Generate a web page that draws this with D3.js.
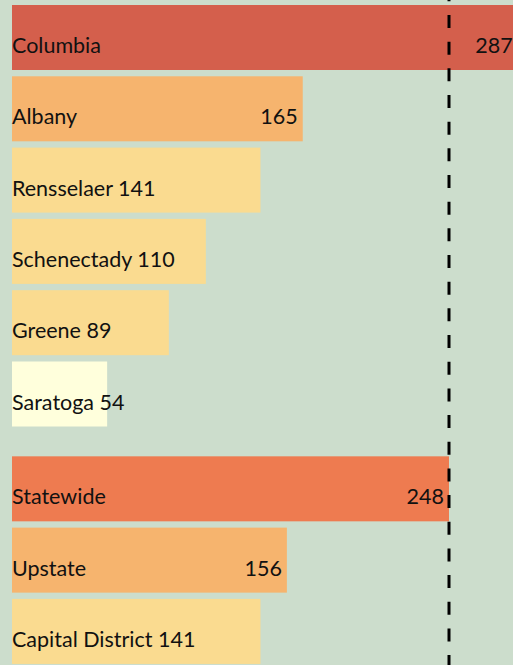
<!DOCTYPE html>
<html><head><meta charset="utf-8">
<script src="https://cdn.jsdelivr.net/npm/d3@7"></script>
<style>html,body{margin:0;padding:0;background:#CCDDCC;overflow:hidden}</style>
</head><body>
<script>
const categories = ["Columbia","Albany","Rensselaer","Schenectady","Greene","Saratoga","Statewide","Upstate","Capital District"];
const values = [287,165,141,110,89,54,248,156,141];
const groups = [0,0,0,0,0,0,1,1,1];
const colors = ["#D45F4C","#F6B46E","#FADB90","#FADB90","#FADB90","#FFFFDC","#EE7B50","#F6B46E","#FADB90"];
const referenceValue = 248;

const W = 513, H = 665;
const svg = d3.select("body").append("svg").attr("width", W).attr("height", H);
svg.append("rect").attr("width", W).attr("height", H).attr("fill", "#CCDDCC");

const x = d3.scaleLinear().domain([0, 248]).range([12, 449]);
const groupGap = 0.33;
const slot = categories.map((c, i) => i + groups[i] * groupGap);
const y = d3.scaleLinear().domain([0, 1]).range([5, 76.3]);
const barH = 65;

const g = svg.append("g");
const rows = g.selectAll("g.row").data(categories).join("g").attr("class","row");
rows.append("rect")
  .attr("x", x(0))
  .attr("y", (d, i) => y(slot[i]))
  .attr("width", (d, i) => x(values[i]) - x(0))
  .attr("height", barH)
  .attr("fill", (d, i) => colors[i]);

const font = "Lato, 'Open Sans', sans-serif";
const fs = 21.5;
rows.each(function(d, i) {
  const sel = d3.select(this);
  const by = y(slot[i]) + barH / 2 + 15.5;
  if (values[i] > 150) {
    sel.append("text").attr("x", x(0)).attr("y", by)
      .attr("font-family", font).attr("font-size", fs).attr("fill", "#111").text(d);
    sel.append("text").attr("x", x(values[i]) - 5).attr("y", by)
      .attr("text-anchor", "end")
      .attr("font-family", font).attr("font-size", fs).attr("fill", "#111").text(values[i]);
  } else {
    sel.append("text").attr("x", x(0)).attr("y", by)
      .attr("font-family", font).attr("font-size", fs).attr("fill", "#111").text(d + " " + values[i]);
  }
});

svg.append("line")
  .attr("x1", x(referenceValue)).attr("x2", x(referenceValue))
  .attr("y1", 15 - 26.67).attr("y2", H)
  .attr("stroke", "#000").attr("stroke-width", 3)
  .attr("stroke-dasharray", "13,13.67");
</script>
</body></html>
